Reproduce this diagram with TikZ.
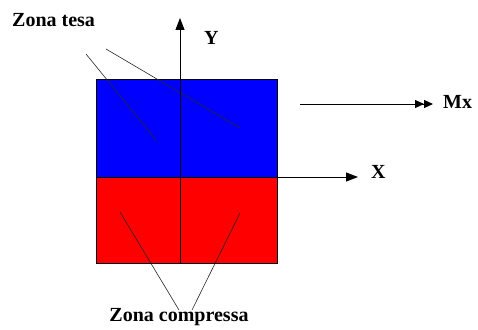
\documentclass[tikz,border=0pt]{standalone}
\usepackage{fontspec}
\setmainfont{Liberation Serif}
\usetikzlibrary{arrows.meta}
\definecolor{zblue}{RGB}{0,0,255}
\definecolor{zred}{RGB}{255,0,0}
\begin{document}
\begin{tikzpicture}[x=1pt,y=-1pt,
  lbl/.style={font=\bfseries\fontsize{20}{22}\selectfont, inner sep=0pt},
  axis/.style={line width=1pt, -{Triangle[length=12pt,width=9pt]}},
  leader/.style={line width=0.6pt, black!85}]
\useasboundingbox (0,0) rectangle (478,329);
% zones
\path[fill=zblue, draw=black, line width=0.8pt] (96,79) rectangle (277,177);
\path[fill=zred, draw=black, line width=0.8pt] (96,177) rectangle (277,263);
% axes
\coordinate (ybot) at (180,263);
\coordinate (ytip) at (180,18);
\coordinate (xorg) at (277,177);
\coordinate (xtip) at (358,177);
\draw[axis] (ybot) -- (ytip);
\draw[axis] (xorg) -- (xtip);
\node[lbl, anchor=west] (ylab) at (204,38) {Y};
\node[lbl, anchor=west] (xlab) at (371,172) {X};
% moment
\coordinate (ms) at (300,104);
\coordinate (me) at (433,104);
\draw[line width=1pt, -{Triangle[length=9pt,width=8pt]Triangle[length=9pt,width=8pt]}] (ms) -- (me);
\node[lbl, anchor=west] (mx) at (443,102) {Mx};
% labels
\node[lbl, anchor=west] (tesa) at (12,20) {Zona tesa};
\node[lbl] (compr) at (179,317) {Zona compressa};
% leaders
\coordinate (t1a) at (86,54);
\coordinate (t1b) at (156,140);
\coordinate (t2a) at (106,49);
\coordinate (t2b) at (240,128);
\draw[leader] (t1a) -- (t1b);
\draw[leader] (t2a) -- (t2b);
\coordinate (c1a) at (120,212);
\coordinate (c1b) at (179,310);
\coordinate (c2a) at (240,213);
\coordinate (c2b) at (192,310);
\draw[leader] (c1a) -- (c1b);
\draw[leader] (c2a) -- (c2b);
\end{tikzpicture}
\end{document}
